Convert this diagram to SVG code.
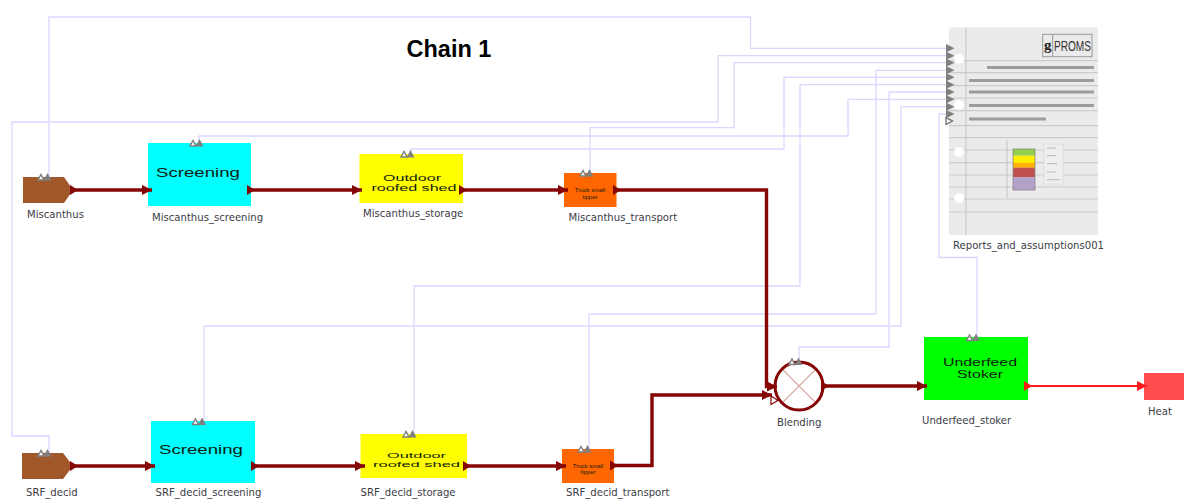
<svg xmlns="http://www.w3.org/2000/svg" width="1184" height="499" viewBox="0 0 1184 499">
<style>
.lab{font-family:"DejaVu Sans",sans-serif;font-size:10.100px;fill:#3c3c46}
.nt{font-family:"Liberation Sans",Arial,sans-serif;fill:#102010;text-anchor:middle}
.sig{fill:none;stroke:#dcd6ff;stroke-width:1.300}
.flow{fill:none;stroke:#860505;stroke-width:3.400;marker-start:url(#st);marker-end:url(#en)}
.heat{fill:none;stroke:#ff1a1a;stroke-width:2;marker-start:url(#rst);marker-end:url(#ren)}
.rl{stroke:#cbcbcb;stroke-width:1.200}
.rb{fill:#9c9c9c}
.hole{fill:#fff}
.pf{fill:#808080}
.po{fill:#fff;stroke:#808080;stroke-width:1.500}
</style>
<defs>
<marker id="en" markerUnits="userSpaceOnUse" markerWidth="11" markerHeight="11" refX="10" refY="5.500" orient="auto"><path d="M0,0.500L10,5.500L0,10.500z" fill="#860505"/></marker>
<marker id="st" markerUnits="userSpaceOnUse" markerWidth="10" markerHeight="11" refX="0" refY="5.500" orient="auto"><path d="M0,0.500L8,5.500L0,10.500z" fill="#860505"/></marker>
<marker id="ren" markerUnits="userSpaceOnUse" markerWidth="11" markerHeight="11" refX="10" refY="5.500" orient="auto"><path d="M0,0.500L10,5.500L0,10.500z" fill="#ff1a1a"/></marker>
<marker id="rst" markerUnits="userSpaceOnUse" markerWidth="10" markerHeight="11" refX="0" refY="5.500" orient="auto"><path d="M0,0.500L8,5.500L0,10.500z" fill="#ff1a1a"/></marker>
<g id="ports"><path class="po" d="M1,6.500L4,1L7,6.500z"/><path class="pf" d="M6.500,7L10.500,-0.500L14.500,7z"/></g>
<path id="rp" class="pf" d="M0,-4.300L8.500,0L0,4.300z"/>
</defs>

<text x="449" y="57" text-anchor="middle" style="font-family:'Liberation Sans',Arial,sans-serif;font-size:23.500px;font-weight:bold;fill:#000">Chain 1</text>

<g id="signal-connectors">
<path class="sig" d="M946,48.300H750.500V17H49V177"/>
<path class="sig" d="M946,55.700H718V122H12V436H49V453"/>
<path class="sig" d="M946,62.700H734V127.700H590V173"/>
<path class="sig" d="M946,70.300H876V314H589V449"/>
<path class="sig" d="M946,77.300H784V149H411V154"/>
<path class="sig" d="M946,84.700H800V286H414V434"/>
<path class="sig" d="M946,92H889V347H799V360"/>
<path class="sig" d="M946,99.300H848V136H199V143"/>
<path class="sig" d="M946,106.700H901V326H204V421"/>
<path class="sig" d="M946,114H939V257.500H977V337"/>
</g>

<g id="Miscanthus">
<path d="M23,177H64L73,190L64,203H23z" fill="#a0582a"/>
<use href="#ports" x="37" y="173.500"/>
<text class="lab" x="27" y="218">Miscanthus</text>
</g>
<g id="Miscanthus_screening">
<rect x="148" y="143" width="103" height="63" fill="#00ffff"/>
<use href="#ports" x="189" y="139.500"/>
<text class="nt" x="198" y="177" font-size="13" textLength="84" lengthAdjust="spacingAndGlyphs">Screening</text>
<text class="lab" x="152" y="221">Miscanthus_screening</text>
</g>
<g id="Miscanthus_storage">
<rect x="359.500" y="154" width="103.500" height="49" fill="#ffff00"/>
<use href="#ports" x="400" y="150.500"/>
<text class="nt" x="412" y="180.500" font-size="8.500" textLength="58" lengthAdjust="spacingAndGlyphs">Outdoor</text>
<text class="nt" x="414" y="190.500" font-size="8.500" textLength="85" lengthAdjust="spacingAndGlyphs">roofed shed</text>
<text class="lab" x="363" y="217">Miscanthus_storage</text>
</g>
<g id="Miscanthus_transport">
<rect x="564" y="173" width="52.500" height="34" fill="#ff6600"/>
<use href="#ports" x="579" y="169.500"/>
<text class="nt" x="590" y="191.500" font-size="6">Truck small</text>
<text class="nt" x="590" y="198.500" font-size="6">tipper</text>
<text class="lab" x="568.500" y="221">Miscanthus_transport</text>
</g>

<g id="SRF_decid">
<path d="M22,453H63L73,466L63,479H22z" fill="#a0582a"/>
<use href="#ports" x="37" y="449.500"/>
<text class="lab" x="26" y="496">SRF_decid</text>
</g>
<g id="SRF_decid_screening">
<rect x="151" y="421" width="104" height="62" fill="#00ffff"/>
<use href="#ports" x="191.500" y="418"/>
<text class="nt" x="201" y="454" font-size="13" textLength="84" lengthAdjust="spacingAndGlyphs">Screening</text>
<text class="lab" x="155.500" y="496">SRF_decid_screening</text>
</g>
<g id="SRF_decid_storage">
<rect x="360.500" y="434" width="106.500" height="44" fill="#ffff00"/>
<use href="#ports" x="402" y="430.500"/>
<text class="nt" x="416.500" y="458" font-size="8" textLength="59" lengthAdjust="spacingAndGlyphs">Outdoor</text>
<text class="nt" x="416.500" y="467" font-size="8" textLength="87" lengthAdjust="spacingAndGlyphs">roofed shed</text>
<text class="lab" x="360.500" y="496">SRF_decid_storage</text>
</g>
<g id="SRF_decid_transport">
<rect x="562" y="449" width="52" height="34" fill="#ff6600"/>
<use href="#ports" x="577" y="445.500"/>
<text class="nt" x="588" y="467.500" font-size="6">Truck small</text>
<text class="nt" x="588" y="473.500" font-size="6">tipper</text>
<text class="lab" x="566" y="496">SRF_decid_transport</text>
</g>

<g id="Blending">
<path d="M782,369L816,403M816,369L782,403" stroke="#dcaaa4" stroke-width="1.200" fill="none"/>
<circle cx="799" cy="386" r="24" fill="none" stroke="#860505" stroke-width="3"/>
<path d="M771,396L778,400.500L771,404.500z" fill="#fff" stroke="#860505" stroke-width="1.200"/>
<use href="#ports" x="788" y="358"/>
<text class="lab" x="777" y="426">Blending</text>
</g>
<g id="Underfeed_stoker">
<rect x="924" y="337" width="104" height="63" fill="#00ff00"/>
<use href="#ports" x="965.500" y="334"/>
<text class="nt" x="980" y="366" font-size="11" textLength="74" lengthAdjust="spacingAndGlyphs">Underfeed</text>
<text class="nt" x="980" y="378" font-size="11" textLength="46" lengthAdjust="spacingAndGlyphs">Stoker</text>
<text class="lab" x="922" y="424">Underfeed_stoker</text>
</g>
<g id="Heat">
<rect x="1144" y="373" width="40" height="27" fill="#ff4d4d"/>
<text class="lab" x="1148" y="415">Heat</text>
</g>

<g id="Reports_and_assumptions001">
<rect x="949" y="27.500" width="149" height="207.500" fill="#ebebeb"/>
<path class="rl" d="M949,60.700H1098M949,72.700H1098M949,85.700H1098M949,98H1098M949,110.700H1098M949,125.700H1098M949,137.700H1098M949,150H1098M949,162.700H1098M949,175H1098M949,187H1098M949,199H1098M949,212H1098M966,27.500V235M1007,140V199"/>
<circle class="hole" cx="959" cy="59" r="5"/>
<circle class="hole" cx="959" cy="105" r="5"/>
<circle class="hole" cx="959" cy="152" r="5"/>
<circle class="hole" cx="959" cy="198" r="5"/>
<rect class="rb" x="987" y="66" width="107" height="3"/>
<rect class="rb" x="969" y="79" width="125" height="3"/>
<rect class="rb" x="969" y="90.500" width="125" height="3"/>
<rect class="rb" x="969" y="104" width="125" height="3"/>
<rect class="rb" x="969" y="117.500" width="77" height="3"/>
<rect x="1042.700" y="34.300" width="49.300" height="22.400" fill="none" stroke="#999" stroke-width="1"/>
<path d="M1052.700,34.300V56.700" stroke="#999" stroke-width="1"/>
<text x="1047.700" y="50" text-anchor="middle" style="font-family:'Liberation Serif',serif;font-size:15px;font-weight:bold;fill:#222">g</text>
<text x="1054" y="51" textLength="37" lengthAdjust="spacingAndGlyphs" style="font-family:'Liberation Sans',sans-serif;font-size:14px;fill:#333">PROMS</text>
<rect x="1013" y="149" width="22" height="6.700" fill="#92d050"/>
<rect x="1013" y="155.700" width="22" height="7.300" fill="#ffee00"/>
<rect x="1013" y="163" width="22" height="4.700" fill="#ffb000"/>
<rect x="1013" y="167.700" width="22" height="9.600" fill="#c0504d"/>
<rect x="1013" y="177.300" width="22" height="12.700" fill="#b3a2c7"/>
<rect x="1013" y="149" width="22" height="41" fill="none" stroke="#888" stroke-width="0.800"/>
<rect x="1044" y="144" width="19.300" height="40" fill="#eee" stroke="#ddd" stroke-width="0.800"/>
<path d="M1047,148H1056M1047,155.700H1056M1047,163.700H1057M1047,172H1056M1047,179.700H1060" stroke="#bbb" stroke-width="1"/>
<use href="#rp" x="946" y="48.300"/>
<use href="#rp" x="946" y="55.700"/>
<use href="#rp" x="946" y="62.700"/>
<use href="#rp" x="946" y="70.300"/>
<use href="#rp" x="946" y="77.300"/>
<use href="#rp" x="946" y="84.700"/>
<use href="#rp" x="946" y="92"/>
<use href="#rp" x="946" y="99.300"/>
<use href="#rp" x="946" y="106.700"/>
<use href="#rp" x="946" y="114"/>
<path class="po" d="M946,117.500L952.500,121L946,124.500z"/>
<text class="lab" x="953" y="249">Reports_and_assumptions001</text>
</g>

<g id="flow-connectors">
<path class="flow" d="M70,190H152"/>
<path class="flow" d="M247,190H362"/>
<path class="flow" d="M459,190H568"/>
<path class="flow" d="M613,190H766.500V386.500H777"/>
<path class="flow" d="M70,466H155"/>
<path class="flow" d="M251,466H365"/>
<path class="flow" d="M463,466H566"/>
<path class="flow" d="M610,465.500H652V395H772"/>
<path class="flow" d="M821,386H927"/>
<path class="heat" d="M1024,386H1147"/>
</g>
</svg>
